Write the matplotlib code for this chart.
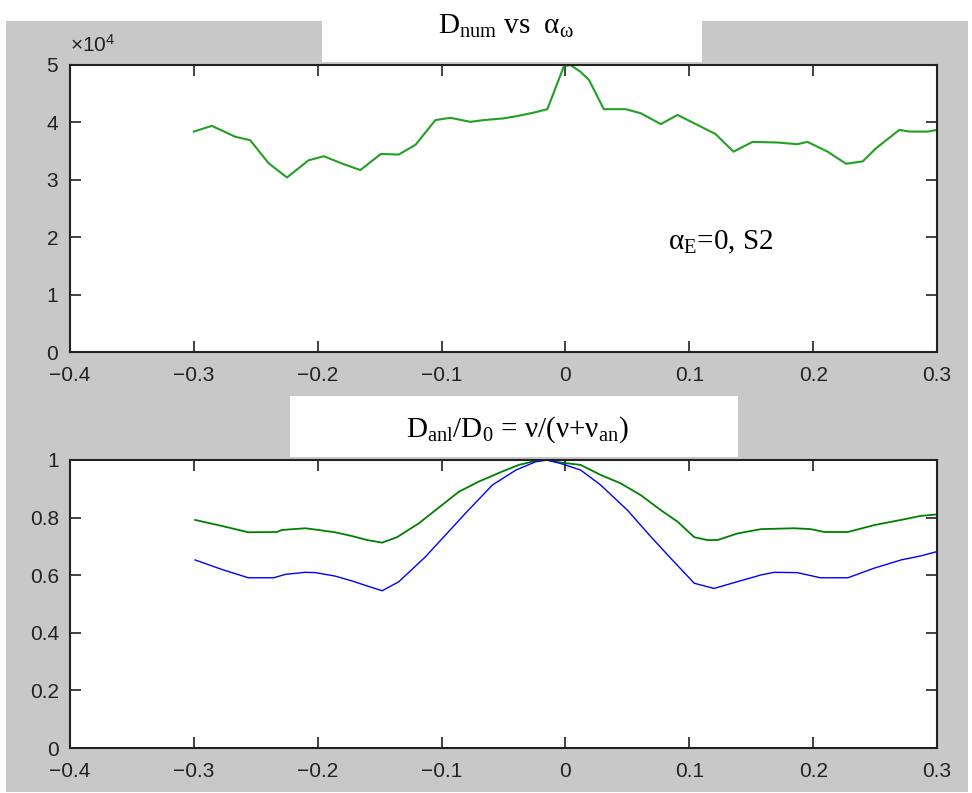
import matplotlib
matplotlib.use('Agg')
import matplotlib.pyplot as plt
from matplotlib.patches import Rectangle
from matplotlib.ticker import ScalarFormatter

plt.rcParams['font.family'] = ['Liberation Sans', 'DejaVu Sans']
plt.rcParams['mathtext.fontset'] = 'custom'
plt.rcParams['mathtext.rm'] = 'Liberation Serif'
plt.rcParams['mathtext.it'] = 'Liberation Serif:italic'

# top panel: D_num vs alpha_omega
alpha_num = [-0.300, -0.2855, -0.2666, -0.2545, -0.2397, -0.2248, -0.2074, -0.195, -0.180, -0.1656,
             -0.149, -0.1346, -0.121, -0.105, -0.093, -0.0767, -0.066, -0.050, -0.039, -0.0257,
             -0.0146, -0.0012, 0.004, 0.0123, 0.019, 0.031, 0.0487, 0.0608, 0.077, 0.0905,
             0.121, 0.1357, 0.151, 0.1713, 0.187, 0.1955, 0.2117, 0.2265, 0.240, 0.2508,
             0.2696, 0.2777, 0.2925, 0.300]
d_num = [3.84e4, 3.94e4, 3.75e4, 3.69e4, 3.29e4, 3.04e4, 3.34e4, 3.41e4, 3.28e4, 3.17e4,
         3.45e4, 3.44e4, 3.61e4, 4.04e4, 4.08e4, 4.01e4, 4.04e4, 4.07e4, 4.11e4, 4.17e4,
         4.23e4, 4.98e4, 5.00e4, 4.88e4, 4.74e4, 4.23e4, 4.23e4, 4.16e4, 3.97e4, 4.13e4,
         3.80e4, 3.49e4, 3.66e4, 3.65e4, 3.62e4, 3.66e4, 3.49e4, 3.28e4, 3.32e4, 3.55e4,
         3.87e4, 3.84e4, 3.84e4, 3.87e4]

# bottom panel: D_anl / D_0
alpha_g = [-0.299, -0.2774, -0.2559, -0.2329, -0.229, -0.210, -0.1993, -0.186, -0.1723, -0.160,
           -0.148, -0.136, -0.1184, -0.0995, -0.086, -0.070, -0.051, -0.0376, -0.024, -0.015,
           -0.0039, 0.0123, 0.0285, 0.0446, 0.0608, 0.077, 0.0905, 0.104, 0.1147, 0.1228,
           0.139, 0.158, 0.1847, 0.198, 0.209, 0.228, 0.2494, 0.271, 0.287, 0.300]
ratio_g = [0.792, 0.771, 0.749, 0.750, 0.757, 0.763, 0.757, 0.749, 0.736, 0.722,
           0.713, 0.732, 0.780, 0.844, 0.890, 0.925, 0.960, 0.983, 0.997, 1.000,
           0.991, 0.983, 0.948, 0.919, 0.878, 0.826, 0.786, 0.732, 0.722, 0.722,
           0.745, 0.760, 0.763, 0.760, 0.750, 0.750, 0.774, 0.792, 0.806, 0.811]
alpha_b = [-0.299, -0.2774, -0.256, -0.2356, -0.226, -0.210, -0.202, -0.186, -0.1723, -0.160,
           -0.148, -0.1346, -0.113, -0.0807, -0.059, -0.040, -0.024, -0.015, -0.0039, 0.0123,
           0.0285, 0.050, 0.0689, 0.085, 0.104, 0.120, 0.136, 0.158, 0.1685, 0.187,
           0.206, 0.228, 0.249, 0.271, 0.287, 0.300]
ratio_b = [0.653, 0.620, 0.591, 0.591, 0.603, 0.610, 0.609, 0.597, 0.580, 0.5625,
           0.546, 0.577, 0.664, 0.815, 0.913, 0.965, 0.994, 1.000, 0.988, 0.965,
           0.913, 0.826, 0.734, 0.659, 0.572, 0.554, 0.574, 0.601, 0.610, 0.609,
           0.591, 0.591, 0.624, 0.653, 0.667, 0.682]

xticks = [-0.4, -0.3, -0.2, -0.1, 0.0, 0.1, 0.2, 0.3]
xticklabels = ['\u22120.4', '\u22120.3', '\u22120.2', '\u22120.1', '0', '0.1', '0.2', '0.3']
yticks_top = [0, 1e4, 2e4, 3e4, 4e4, 5e4]
yticks_bot = [0, 0.2, 0.4, 0.6, 0.8, 1.0]
yticklabels_bot = ['0', '0.2', '0.4', '0.6', '0.8', '1']

W, H = 972, 793
fig = plt.figure(figsize=(W / 100, H / 100), dpi=100, facecolor='white')

def px_rect(x0, y0, x1, y1, **kw):
    # rectangle given in image pixels (origin top-left)
    return Rectangle((x0 / W, 1 - y1 / H), (x1 - x0) / W, (y1 - y0) / H,
                     transform=fig.transFigure, **kw)

fig.add_artist(px_rect(6, 21, 968, 792, facecolor='#c8c8c8', edgecolor='none', zorder=-2))
fig.add_artist(px_rect(322, 21, 702, 62, facecolor='white', edgecolor='none', zorder=-1))
fig.add_artist(px_rect(290, 396, 738, 457, facecolor='white', edgecolor='none', zorder=-1))

ax1 = fig.add_axes([70 / W, 1 - 352 / H, 867 / W, 287 / H])
ax2 = fig.add_axes([70 / W, 1 - 748 / H, 867 / W, 288 / H])

ax1.plot(alpha_num, d_num, color='#22a022', lw=1.5)
ax2.plot(alpha_g, ratio_g, color='#008000', lw=1.3)
ax2.plot(alpha_b, ratio_b, color='#0000ff', lw=1.0)

for ax in (ax1, ax2):
    ax.set_facecolor('white')
    ax.set_xlim(-0.4, 0.3)
    ax.set_xticks(xticks)
    ax.set_xticklabels(xticklabels)
    ax.tick_params(direction='in', length=8, width=1.2, top=True, right=True,
                   labelsize=15, colors='#222222')
    ax.tick_params(axis='x', pad=10)
    ax.tick_params(axis='y', pad=8)
    for s in ax.spines.values():
        s.set_linewidth(1.5)
        s.set_color('#222222')

ax1.set_ylim(0, 5e4)
ax1.set_yticks(yticks_top)
fmt = ScalarFormatter(useMathText=True)
fmt.set_powerlimits((0, 0))
ax1.yaxis.set_major_formatter(fmt)
ax1.yaxis.get_offset_text().set_visible(False)
ax1.text(0.0, 1.045, '\u00d710$^{\\mathregular{4}}$', transform=ax1.transAxes,
         fontsize=15, color='#222222', ha='left', va='baseline')

ax2.set_ylim(0, 1)
ax2.set_yticks(yticks_bot)
ax2.set_yticklabels(yticklabels_bot)

fig.text(506 / W, 1 - 34 / H, 'D$_{\\mathrm{num}}$ vs  $\\mathrm{\u03b1}_{\\mathrm{\u03c9}}$',
         family='Liberation Serif', fontsize=21, ha='center', va='baseline')
fig.text(517 / W, 1 - 437 / H,
         'D$_{\\mathrm{anl}}$/D$_{\\mathrm{0}}$ = \u03bd/(\u03bd+\u03bd$_{\\mathrm{an}}$)',
         family='Liberation Serif', fontsize=21, ha='center', va='baseline')
ax1.text(668 / W, 1 - 249 / H, '$\\mathrm{\u03b1}_{\\mathrm{E}}$=0, S2', transform=fig.transFigure,
         family='Liberation Serif', fontsize=21, ha='left', va='baseline')

fig.savefig('out.png', dpi=100, facecolor='white')
